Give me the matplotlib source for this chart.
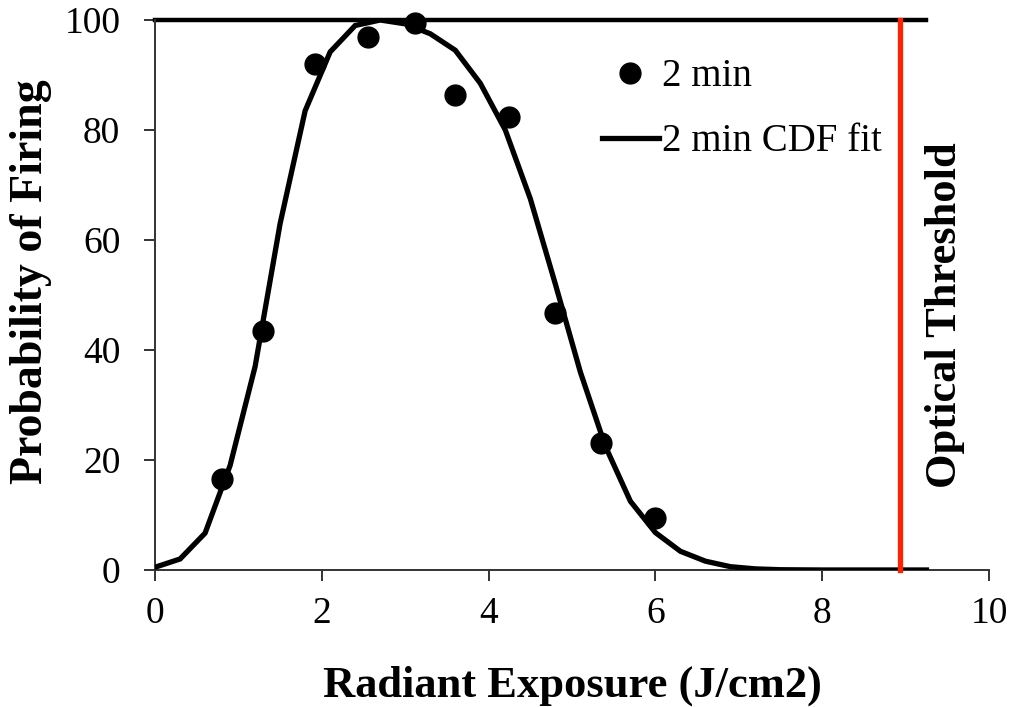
import matplotlib
matplotlib.use('Agg')
import matplotlib.pyplot as plt

plt.rcParams['font.family'] = ['Liberation Serif', 'DejaVu Serif']

# datos medidos (2 min)
exp_x = [0.8, 1.3, 1.92, 2.55, 3.12, 3.6, 4.24, 4.8, 5.35, 6.0]
exp_y = [16.5, 43.5, 92.0, 97.0, 99.5, 86.3, 82.3, 46.8, 23.0, 9.5]

# curva de ajuste CDF
fit_x = [0.0, 0.3, 0.6, 0.9, 1.2, 1.5, 1.8, 2.1, 2.4, 2.7, 3.0, 3.3, 3.6, 3.9,
         4.2, 4.5, 4.8, 5.1, 5.4, 5.7, 6.0, 6.3, 6.6, 6.9, 7.2, 7.5, 8.0, 8.5,
         9.0, 9.25]
fit_y = [0.5, 2.0, 6.7, 19.0, 37.0, 63.0, 83.5, 94.2, 99.0, 100.0, 99.3, 97.5,
         94.5, 88.5, 80.0, 67.5, 52.0, 36.0, 22.5, 12.5, 6.8, 3.4, 1.6, 0.6,
         0.2, 0.05, 0.0, 0.0, 0.0, 0.0]

# umbral optico
limite_x = [0.0, 9.25]
limite_y = [100, 100]
umbral_x = 8.93

fig = plt.figure(figsize=(10.16, 7.07), dpi=100)
ax = fig.add_axes([0.1526, 0.1938, 0.8208, 0.7779])

ax.plot(fit_x, fit_y, color='black', linewidth=3.8, label='2 min CDF fit',
        solid_joinstyle='miter', zorder=3)
ax.plot(limite_x, limite_y, color='black', linewidth=3.2, clip_on=False, zorder=2)
ax.plot([umbral_x, umbral_x], [0, 100], color='#ff2200', linewidth=3.8,
        clip_on=False, zorder=4)
ax.plot(exp_x, exp_y, 'o', color='black', markersize=15, label='2 min',
        clip_on=False, zorder=5)

ax.set_xlim(0, 10)
ax.set_ylim(0, 100)
ax.set_xticks(range(0, 11, 2))
ax.set_yticks(range(0, 101, 20))

for s in ['top', 'right']:
    ax.spines[s].set_visible(False)
for s in ['left', 'bottom']:
    ax.spines[s].set_color('#333333')
    ax.spines[s].set_linewidth(1.4)

ax.tick_params(axis='both', direction='out', length=8, width=1.4,
               color='#333333', labelsize=27)
ax.tick_params(axis='y', pad=17)
ax.tick_params(axis='x', pad=11)

ax.set_xlabel('Radiant Exposure (J/cm2)', fontsize=32, fontweight='bold',
              labelpad=25)
ax.set_ylabel('Probability of Firing', fontsize=33, fontweight='bold')
ax.yaxis.set_label_coords(-0.1235, 0.524)

ax.text(0.947, 0.464, 'Optical Threshold', transform=ax.transAxes, rotation=90,
        ha='center', va='center', fontsize=32, fontweight='bold')

h, l = ax.get_legend_handles_labels()
ax.legend([h[1], h[0]], [l[1], l[0]], loc='upper left',
          bbox_to_anchor=(0.503, 0.98), frameon=False, fontsize=28,
          handlelength=1.47, handletextpad=0.08, labelspacing=0.72,
          markerscale=1.0, borderpad=0.2)

fig.savefig('out.png', dpi=100)
